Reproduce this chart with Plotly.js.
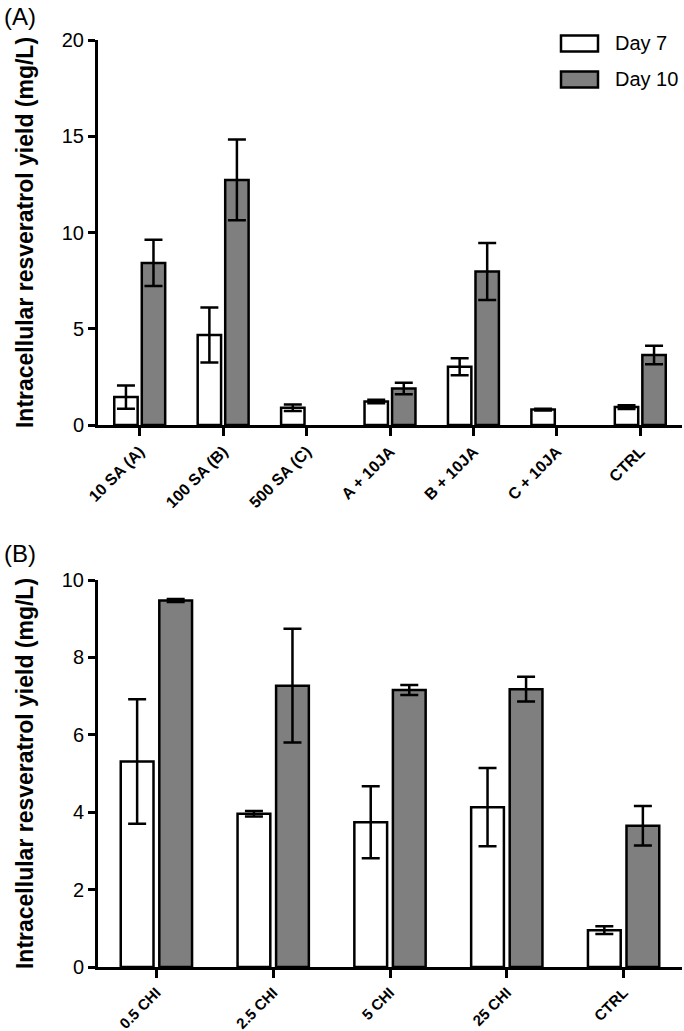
<!DOCTYPE html>
<html>
<head>
<meta charset="utf-8">
<script src="https://cdn.plot.ly/plotly-3.0.1.min.js"></script>
<style>html,body{margin:0;padding:0;background:#fff;}#chart{width:684px;height:1031px;}</style>
</head>
<body>
<div id="chart"></div>
<script>
// ---- Data (A) ----
var catsA = ['10 SA (A)', '100 SA (B)', '500 SA (C)', 'A + 10JA', 'B + 10JA', 'C + 10JA', 'CTRL'];
var day7A = [1.45, 4.68, 0.90, 1.22, 3.03, 0.80, 0.93];
var day7AErr = [0.60, 1.43, 0.17, 0.09, 0.44, 0.05, 0.10];
var day10A = [8.42, 12.73, null, 1.90, 7.97, null, 3.64];
var day10AErr = [1.20, 2.10, null, 0.30, 1.48, null, 0.48];

// ---- Data (B) ----
var catsB = ['0.5 CHI', '2.5 CHI', '5 CHI', '25 CHI', 'CTRL'];
var day7B = [5.31, 3.96, 3.74, 4.13, 0.95];
var day7BErr = [1.61, 0.07, 0.93, 1.01, 0.10];
var day10B = [9.47, 7.27, 7.16, 7.18, 3.65];
var day10BErr = [0.04, 1.47, 0.13, 0.32, 0.51];

var seriesNames = ['Day 7', 'Day 10'];
var seriesColors = ['#ffffff', '#7f7f7f'];
var yTitle = 'Intracellular resveratrol yield (mg/L)';
var panelLabels = ['(A)', '(B)'];
var yTicksA = [0, 5, 10, 15, 20];
var yTicksB = [0, 2, 4, 6, 8, 10];

// ---- Layout geometry ----
var W = 684, H = 1031;
var ml = 98, mr = 2, mt = 40, mb = 64;
var pw = W - ml - mr, ph = H - mt - mb;
function px(x) { return (x - ml) / pw; }
function py(y) { return (H - mb - y) / ph; }

var FONT = 'Liberation Sans, Arial, Helvetica, sans-serif';

function barTrace(x, y, err, name, color, xa, ya) {
  return {
    type: 'bar', x: x, y: y, name: name, xaxis: xa, yaxis: ya, showlegend: false,
    marker: { color: color, line: { color: '#000', width: 2.5 } },
    error_y: { type: 'data', array: err, visible: true, color: '#000', thickness: 2.5, width: 9 },
    hoverinfo: 'none'
  };
}

var data = [
  barTrace(catsA, day7A, day7AErr, seriesNames[0], seriesColors[0], 'x', 'y'),
  barTrace(catsA, day10A, day10AErr, seriesNames[1], seriesColors[1], 'x', 'y'),
  barTrace(catsB, day7B, day7BErr, seriesNames[0], seriesColors[0], 'x2', 'y2'),
  barTrace(catsB, day10B, day10BErr, seriesNames[1], seriesColors[1], 'x2', 'y2')
];

function xAxis(anchor, n, fs) {
  return {
    anchor: anchor, domain: [0, 1], type: 'category', range: [-0.5, n - 0.5],
    showline: true, linecolor: '#000', linewidth: 3, mirror: false,
    ticks: 'outside', ticklen: 8, tickwidth: 3, tickcolor: '#000',
    tickangle: -45, showgrid: false, zeroline: false, fixedrange: true,
    tickfont: { family: FONT, size: fs, color: '#000', weight: 'bold' }
  };
}
function yAxis(anchor, domain, range, ticks) {
  return {
    anchor: anchor, domain: domain, range: range, tickvals: ticks,
    showline: true, linecolor: '#000', linewidth: 3,
    ticks: 'outside', ticklen: 7, tickwidth: 3, tickcolor: '#000',
    showgrid: false, zeroline: false, fixedrange: true,
    tickfont: { family: FONT, size: 20, color: '#000' },
    title: { text: yTitle, font: { family: FONT, size: 23, color: '#000', weight: 'bold' }, standoff: 22 }
  };
}

var shapes = [], annotations = [];
// legend built from series names/colors
var legRows = [43.5, 79.5];
for (var i = 0; i < seriesNames.length; i++) {
  shapes.push({ type: 'rect', xref: 'paper', yref: 'paper',
    x0: px(561), x1: px(598), y0: py(legRows[i] - 8), y1: py(legRows[i] + 8),
    fillcolor: seriesColors[i], line: { color: '#000', width: 2.5 } });
  annotations.push({ xref: 'paper', yref: 'paper', x: px(613), y: py(legRows[i]),
    xanchor: 'left', yanchor: 'middle', showarrow: false, text: seriesNames[i],
    font: { family: FONT, size: 20, color: '#000' } });
}
annotations.push({ xref: 'paper', yref: 'paper', x: px(2), y: py(16), xanchor: 'left', yanchor: 'middle',
  showarrow: false, text: panelLabels[0], font: { family: FONT, size: 24, color: '#000' } });
annotations.push({ xref: 'paper', yref: 'paper', x: px(2), y: py(553), xanchor: 'left', yanchor: 'middle',
  showarrow: false, text: panelLabels[1], font: { family: FONT, size: 24, color: '#000' } });

var layout = {
  width: W, height: H,
  margin: { l: ml, r: mr, t: mt, b: mb, pad: 0 },
  paper_bgcolor: '#fff', plot_bgcolor: 'rgba(0,0,0,0)',
  barmode: 'group', bargap: 0.34, bargroupgap: 0.15,
  showlegend: false,
  font: { family: FONT, color: '#000' },
  xaxis: xAxis('y', catsA.length, 16),
  yaxis: yAxis('x', [py(425), 1], [0, 20], yTicksA),
  xaxis2: xAxis('y2', catsB.length, 15),
  yaxis2: yAxis('x2', [0, py(580)], [0, 10], yTicksB),
  shapes: shapes, annotations: annotations
};

Plotly.newPlot('chart', data, layout, { displayModeBar: false, staticPlot: true });
</script>
</body>
</html>
